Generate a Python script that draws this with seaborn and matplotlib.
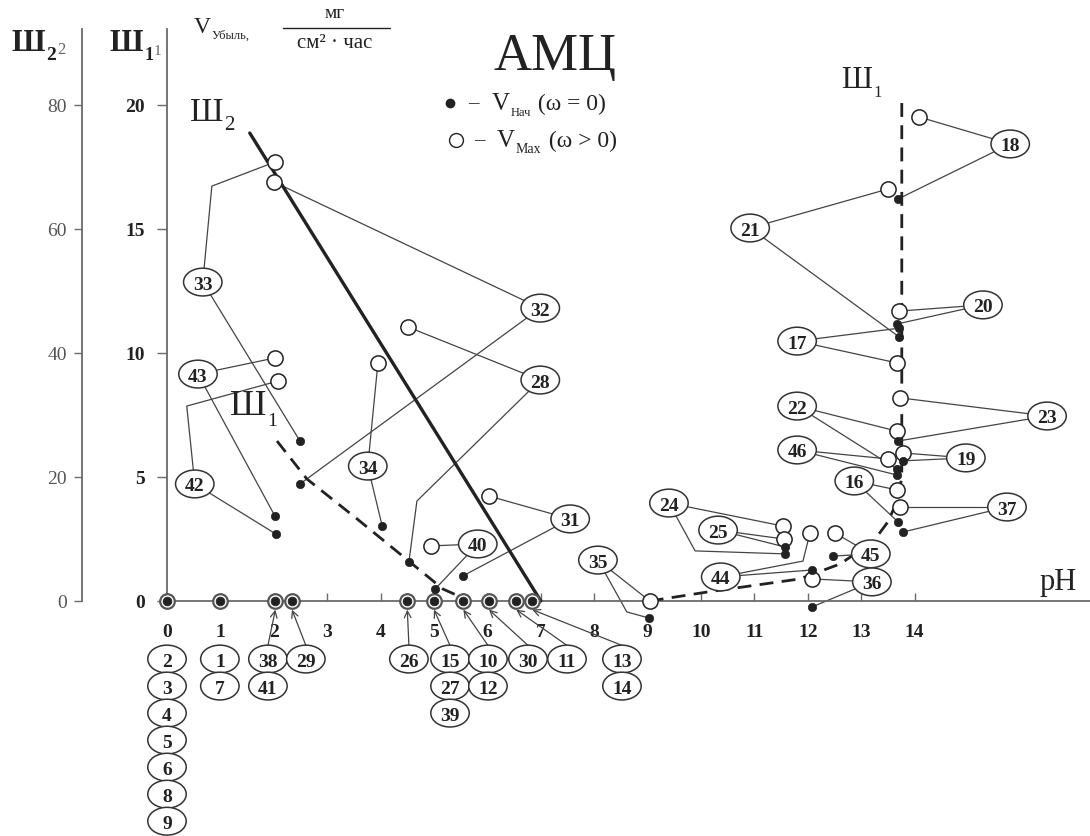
import numpy as np
import pandas as pd
import seaborn as sns
import matplotlib.pyplot as plt
from matplotlib.patches import Ellipse

# ---- data: pH and corrosion rate V (mg/(cm2*h), Ш1 scale) ----
sample = [33, 32, 43, 42, 34, 28, 40, 31, 35, 24, 25, 44, 45, 36, 37, 16, 46, 22, 23, 19, 17, 20, 21, 18]
ph_max = [2.02, 2.00, 2.02, 2.08, 3.95, 4.51, 4.94, 6.03, 9.04, 11.54, 11.55, 12.04, 12.51, 12.08,
          13.73, 13.67, 13.50, 13.67, 13.73, 13.78, 13.67, 13.71, 13.50, 14.08]
v_max = [17.70, 16.90, 9.80, 8.87, 9.60, 11.05, 2.22, 4.23, 0.0, 3.02, 2.50, 2.74, 2.74, 0.89,
         3.79, 4.48, 5.73, 6.85, 8.19, 5.97, 9.60, 11.69, 16.61, 19.52]
ph_start = [2.49, 2.49, 2.02, 2.04, 4.03, 4.53, 5.02, 5.54, 9.03, 11.57, 11.57, 12.08, 12.47, 12.08,
            13.78, 13.69, 13.67, 13.67, 13.69, 13.78, 13.71, 13.67, 13.71, 13.69]
v_start = [6.45, 4.72, 3.43, 2.70, 3.02, 1.57, 0.48, 1.01, -0.69, 1.90, 2.18, 1.25, 1.81, -0.24,
           2.78, 3.19, 5.08, 5.32, 6.45, 5.65, 11.0, 11.17, 10.65, 16.21]

# samples with zero rate, grouped by pH
zero_ph = [0, 1, 2.03, 2.34, 4.50, 5.00, 5.55, 6.03, 6.54, 6.84]
zero_ids = [[2, 3, 4, 5, 6, 8, 9], [1, 7], [38, 41], [29], [26], [15, 27, 39], [10, 12], [30], [11], [13, 14]]

# boundary lines Ш2 (solid) and Ш1 (dashed, two branches)
sh2_ph = [1.55, 7.00]
sh2_v = [18.87, 0.0]
sh1a_ph = [2.06, 2.62, 3.56, 4.55, 5.17, 5.67]
sh1a_v = [6.45, 4.92, 3.31, 1.57, 0.48, 0.0]
sh1b_ph = [9.04, 10.11, 11.85, 12.60, 13.22, 13.50, 13.69, 13.76, 13.76]
sh1b_v = [0.0, 0.36, 0.89, 1.49, 2.38, 3.19, 4.11, 5.0, 20.12]

ph_ticks = list(range(15))
v_ticks = [0, 5, 10, 15, 20]
sh2_ticks = [0, 20, 40, 60, 80]

# ---- layout (pixel mapping of the scan, label placements) ----
W, H = 1090, 837
X0, KX = 167, 53.4
Y0, KY = 602, 24.8
tag_ph = [0.67, 6.99, 0.58, 0.52, 3.76, 6.99, 5.82, 7.55, 8.07, 9.40, 10.32, 10.37, 13.18, 13.20,
          15.73, 12.87, 11.80, 11.80, 16.48, 14.96, 11.80, 15.28, 10.92, 15.79]
tag_v = [12.86, 11.81, 9.15, 4.72, 5.44, 8.91, 2.30, 3.31, 1.65, 3.95, 2.86, 0.97, 1.90, 0.77,
         3.79, 4.84, 6.09, 7.86, 7.46, 5.77, 10.48, 11.94, 15.04, 18.43]
bend_max = {33: (0.84, 16.73), 42: (0.37, 7.86), 44: (11.91, 1.61)}
bend_start = {28: (4.68, 4.03), 24: (9.89, 2.02), 35: (8.61, -0.44)}
col_ph = [0, 0.99, 1.89, 2.60, 4.53, 5.30, 6.01, 6.76, 7.49, 8.52]

sns.set_theme(style='white')
plt.rcParams['font.family'] = ['Liberation Serif', 'DejaVu Serif']
ink = '#222222'
axis_col = '#6a6a6a'
line_col = '#444444'

fig = plt.figure(figsize=(W / 100, H / 100), dpi=100)
ax = fig.add_axes([0, 0, 1, 1])
ax.set_facecolor('white')

# axes lines
for s in ['top', 'right']:
    ax.spines[s].set_visible(False)
ax.spines['left'].set_position(('data', 0))
ax.spines['bottom'].set_position(('data', 0))
ax.spines['left'].set_bounds(0, (Y0 - 30) / KY)
ax.spines['bottom'].set_bounds(0, (W - X0) / KX)
for s in ['left', 'bottom']:
    ax.spines[s].set_color(axis_col)
    ax.spines[s].set_linewidth(1.3)

ax.set_xticks(ph_ticks)
ax.set_xticklabels([str(t) for t in ph_ticks], fontweight='bold', fontsize=14, color=ink)
ax.set_yticks(v_ticks)
ax.set_yticklabels([str(t) for t in v_ticks], fontweight='bold', fontsize=14, color=ink)
ax.tick_params(axis='x', bottom=True, direction='in', length=6, width=1, color=axis_col, pad=16)
ax.tick_params(axis='y', left=True, direction='out', length=7, width=1, color=axis_col, pad=9)

sec = ax.secondary_yaxis(82 / W, functions=(lambda v: v * 4, lambda v: v / 4))
sec.set_alignment('left')
sec.set_yticks(sh2_ticks)
sec.set_yticklabels([str(t) for t in sh2_ticks], fontsize=14, color='#555555')
sec.spines['left'].set_bounds(0, 4 * (Y0 - 30) / KY)
sec.spines['left'].set_color(axis_col)
sec.spines['left'].set_linewidth(1.3)
sec.tick_params(axis='y', left=True, direction='out', length=6, width=1, color=axis_col, pad=5)

# boundary lines
sns.lineplot(x=sh2_ph, y=sh2_v, sort=False, estimator=None, color=ink, linewidth=2.4, ax=ax, zorder=3)
for xs, ys in [(sh1a_ph, sh1a_v), (sh1b_ph, sh1b_v)]:
    sns.lineplot(x=xs, y=ys, sort=False, estimator=None, color=ink, linewidth=2.0,
                 linestyle=(0, (5, 3)), ax=ax, zorder=3)

# connectors from labels to points
for i, n in enumerate(sample):
    for (px, py), bends in [((ph_max[i], v_max[i]), bend_max), ((ph_start[i], v_start[i]), bend_start)]:
        xs = [tag_ph[i]] + ([bends[n][0]] if n in bends else []) + [px]
        ys = [tag_v[i]] + ([bends[n][1]] if n in bends else []) + [py]
        ax.plot(xs, ys, color=line_col, lw=0.9, zorder=2)

# points
df_max = pd.DataFrame({'ph': ph_max, 'v': v_max})
df_start = pd.DataFrame({'ph': ph_start, 'v': v_start})
df_zero = pd.DataFrame({'ph': zero_ph, 'v': [0.0] * len(zero_ph)})
sns.scatterplot(data=df_max, x='ph', y='v', ax=ax, color='white', edgecolor=ink, linewidth=1.1, s=120, zorder=6)
sns.scatterplot(data=df_start, x='ph', y='v', ax=ax, color=ink, edgecolor=ink, linewidth=0.5, s=36, zorder=7)
sns.scatterplot(data=df_zero, x='ph', y='v', ax=ax, color='white', edgecolor='#555555', linewidth=1.6, s=110, zorder=6)
sns.scatterplot(data=df_zero, x='ph', y='v', ax=ax, color=ink, edgecolor=ink, linewidth=0.5, s=40, zorder=7)

# circled sample numbers
def tag(x, y, n):
    ax.add_patch(Ellipse((x, y), 0.72, 1.12, facecolor='white', edgecolor='#333333', lw=1.1, zorder=8))
    ax.text(x, y, str(n), ha='center', va='center_baseline', fontsize=14, fontweight='bold', color=ink, zorder=9)

for i, n in enumerate(sample):
    tag(tag_ph[i], tag_v[i], n)

row0, row_step = -2.34, 1.09
for j, ids in enumerate(zero_ids):
    for k, n in enumerate(ids):
        tag(col_ph[j], row0 - k * row_step, n)
    if j >= 2:
        ax.annotate('', xy=(zero_ph[j], -0.35), xytext=(col_ph[j], row0 + 0.55),
                    arrowprops=dict(arrowstyle='->', lw=0.9, color=line_col, shrinkA=0, shrinkB=0), zorder=5)


# texts in pixel positions
def ptxt(x, y, s, **kw):
    kw.setdefault('color', ink)
    return ax.text(x / W, 1 - y / H, s, transform=ax.transAxes, **kw)


def after(t, s, size, dy=-4, **kw):
    kw.setdefault('color', ink)
    return ax.annotate(s, xy=(1, 0), xycoords=t, xytext=(0.5, dy), textcoords='offset points',
                       fontsize=size, va='bottom', ha='left', **kw)


ptxt(555, 57, 'АМЦ', fontsize=38, ha='center', va='center')
ptxt(1058, 583, 'pH', fontsize=22, ha='center', va='center')

t = ptxt(190, 128, 'Ш', fontsize=24, va='bottom', ha='left')
after(t, '2', 15, dy=-5)
t = ptxt(857, 95, 'Ш', fontsize=22, va='bottom', ha='center')
after(t, '1', 12, dy=-4)
t = ptxt(230, 423, 'Ш', fontsize=26, va='bottom', ha='left')
after(t, '1', 14, dy=-5)

# axis headers (the scan shows the index doubled)
t = ptxt(12, 58, 'Ш', fontsize=22, va='bottom', ha='left', fontweight='bold')
t2 = after(t, '2', 14, dy=-4, fontweight='bold')
after(t2, '2', 12, dy=4, color='#666666')
t = ptxt(110, 58, 'Ш', fontsize=22, va='bottom', ha='left', fontweight='bold')
t2 = after(t, '1', 13, dy=-4, fontweight='bold')
after(t2, '1', 11, dy=4, color='#666666')

t = ptxt(194, 38, 'V', fontsize=17, va='bottom', ha='left')
after(t, 'Убыль,', 9, dy=-3)
ptxt(335, 22, 'мг', fontsize=14, ha='center', va='bottom')
ax.plot([283 / W, 390 / W], [1 - 29 / H] * 2, transform=ax.transAxes, color=ink, lw=1.0)
ptxt(335, 34, 'см² · час', fontsize=15, ha='center', va='top')

# legend
ax.plot([450 / W], [1 - 104 / H], 'o', ms=6, color=ink, transform=ax.transAxes)
ax.plot([456 / W], [1 - 141 / H], 'o', ms=10, mfc='white', mec=ink, mew=1.0, transform=ax.transAxes)
ptxt(468, 104, '–', fontsize=15, va='center')
ptxt(474, 141, '–', fontsize=15, va='center')
t = ptxt(492, 115, 'V', fontsize=18, va='bottom')
s1 = after(t, 'Нач', 9, dy=-3)
ax.annotate(' (ω = 0)', xy=(1, 0), xycoords=(s1, t), xytext=(1, 0), textcoords='offset points',
            fontsize=17, va='bottom', ha='left', color=ink)
t = ptxt(497, 152, 'V', fontsize=18, va='bottom')
s2 = after(t, 'Max', 10, dy=-3)
ax.annotate(' (ω > 0)', xy=(1, 0), xycoords=(s2, t), xytext=(1, 0), textcoords='offset points',
            fontsize=17, va='bottom', ha='left', color=ink)

ax.set_xlabel('')
ax.set_ylabel('')
ax.set_xlim(-X0 / KX, (W - X0) / KX)
ax.set_ylim(-(H - Y0) / KY, Y0 / KY)

fig.savefig('out.png', dpi=100, facecolor='white')
